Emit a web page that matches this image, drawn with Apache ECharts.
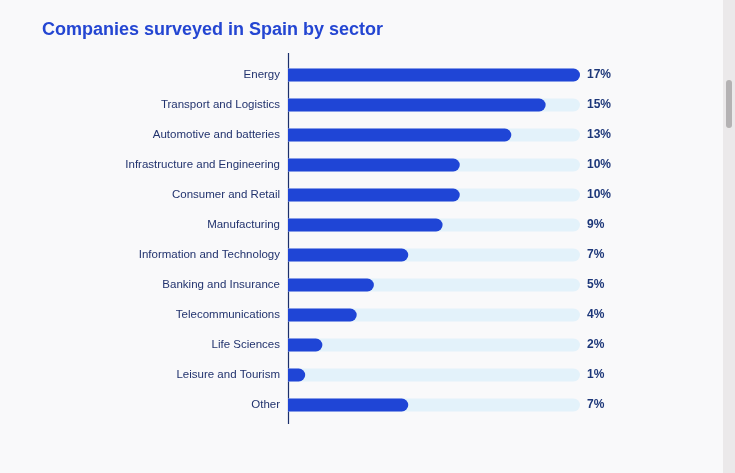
<!DOCTYPE html>
<html>
    <head>
        <meta charset="utf-8">
        <title>Companies surveyed in Spain by sector</title>
        <script src="https://cdn.jsdelivr.net/npm/echarts@6/dist/echarts.min.js"></script>
        <style>
            html,body{margin:0;padding:0;background:#f9f9fa;}
        </style>
    </head>
    <body>
        <div id="sectors" style="width:735px;height:473px;"></div>
        <script type="text/javascript">
            // sectors, top to bottom as in the picture
            var sectors=["Energy","Transport and Logistics","Automotive and batteries","Infrastructure and Engineering",
                "Consumer and Retail","Manufacturing","Information and Technology","Banking and Insurance",
                "Telecommunications","Life Sciences","Leisure and Tourism","Other"];
            var shares=[17,15,13,10,10,9,7,5,4,2,1,7];
            var fullScale=17;

            var myChart=echarts.init(document.getElementById('sectors'));

            // category axis goes bottom-up, so flip the lists
            var cats=sectors.slice().reverse();
            var vals=shares.slice().reverse();
            var track=vals.map(function(){return fullScale;});

            var option={
                backgroundColor:'#f9f9fa',
                animation:false,
                title:{text:"Companies surveyed in Spain by sector",left:37,top:16,
                    textStyle:{fontSize:18,fontWeight:'bold',color:'#2446d2',fontFamily:'Liberation Sans'}},
                grid:{left:288,top:60,width:292,height:360,containLabel:false},
                xAxis:{type:'value',min:0,max:fullScale,show:false},
                yAxis:{type:'category',data:cats,
                    axisLine:{show:false},axisTick:{show:false},
                    axisLabel:{margin:8,fontSize:11.5,color:'#22336e',fontFamily:'Liberation Sans'}},
                graphic:[
                    {type:'line',shape:{x1:288.5,y1:53,x2:288.5,y2:424},style:{stroke:'#1b2f6b',lineWidth:1.2}},
                    {type:'rect',shape:{x:723,y:0,width:12,height:473},style:{fill:'#ebe9ea'}},
                    {type:'rect',shape:{x:726,y:80,width:6,height:48,r:3},style:{fill:'#b4b2b3'}}
                ],
                series:[
                    {name:'track',type:'bar',data:track,barWidth:13,silent:true,
                        itemStyle:{color:'#e3f2fa',borderRadius:[0,7,7,0]},
                        label:{show:true,position:'right',distance:7,
                            formatter:function(p){return vals[p.dataIndex]+'%';},
                            fontSize:12,fontWeight:'bold',color:'#1d3779',fontFamily:'Liberation Sans'}},
                    {name:'share',type:'bar',data:vals,barWidth:13,barGap:'-100%',
                        itemStyle:{color:'#1f45d6',borderRadius:[0,7,7,0]}}
                ]
            };
            myChart.setOption(option);
        </script>
    </body>
</html>
